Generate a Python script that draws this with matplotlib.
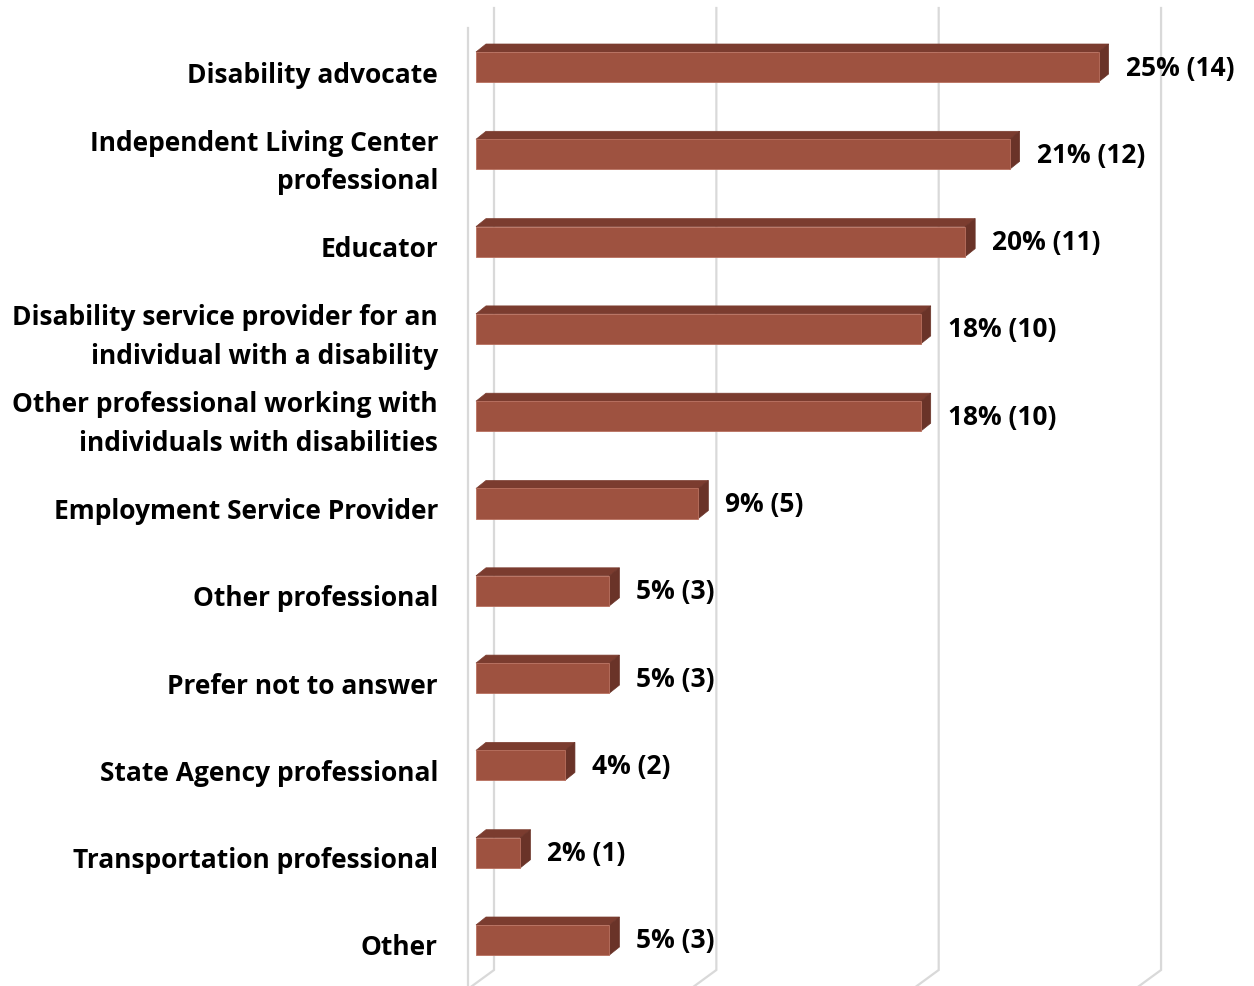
import matplotlib
matplotlib.use('Agg')
import matplotlib.pyplot as plt
from matplotlib.patches import Polygon

categories = [
    "Disability advocate",
    "Independent Living Center\nprofessional",
    "Educator",
    "Disability service provider for an\nindividual with a disability",
    "Other professional working with\nindividuals with disabilities",
    "Employment Service Provider",
    "Other professional",
    "Prefer not to answer",
    "State Agency professional",
    "Transportation professional",
    "Other",
]
counts = [14, 12, 11, 10, 10, 5, 3, 3, 2, 1, 3]
percents = [25, 21, 20, 18, 18, 9, 5, 5, 4, 2, 5]
grid_ticks = [0, 5, 10, 15]

# pixel sizes expressed in data units
W, H = 1254, 986
PX = 44.47   # pixels per count
PY = 87.3    # pixels per row
sx = 1.0 / PX
sy = 1.0 / PY

plt.rcParams['font.family'] = ['Open Sans', 'DejaVu Sans']

fig = plt.figure(figsize=(W / 100, H / 100), dpi=100)
ax = fig.add_axes([0, 0, 1, 1])
ax.set_xlim(-494 * sx, (W - 494) * sx)
ax.set_ylim((H - 67) * sy, -67 * sy)
ax.axis('off')

grid_col = '#d9d9d9'
top_y = -59 * sy
bot_y = (970 - 67) * sy
depth_dx, depth_dy = -26 * sx, 19 * sy

# back wall gridlines with floor diagonals
for t in grid_ticks:
    ax.plot([t, t, t + depth_dx], [top_y, bot_y, bot_y + depth_dy],
            color=grid_col, lw=1.6, solid_joinstyle='miter', zorder=1)
# front edge of the side wall
ax.plot([depth_dx, depth_dx], [-39 * sy, (990 - 67) * sy],
        color=grid_col, lw=1.6, zorder=1)

front_col = '#9e5240'
top_col = '#7b3c2f'
side_col = '#6a3328'
x0 = -18 * sx
half_h = 15 * sy
ddx, ddy = 10 * sx, -8 * sy

for i, (cat, n, p) in enumerate(zip(categories, counts, percents)):
    x1 = x0 + n
    yt, yb = i - half_h, i + half_h
    ax.add_patch(Polygon([(x0, yt), (x1, yt), (x1 + ddx, yt + ddy), (x0 + ddx, yt + ddy)],
                         closed=True, facecolor=top_col, edgecolor=top_col, lw=0.5, zorder=3))
    ax.add_patch(Polygon([(x1, yt), (x1 + ddx, yt + ddy), (x1 + ddx, yb + ddy), (x1, yb)],
                         closed=True, facecolor=side_col, edgecolor=side_col, lw=0.5, zorder=3))
    ax.add_patch(Polygon([(x0, yt), (x1, yt), (x1, yb), (x0, yb)],
                         closed=True, facecolor=front_col, edgecolor='#b9705f', lw=0.6, zorder=4))
    ax.text(x1 + 27 * sx, i + 1 * sy, f"{p}% ({n})", ha='left', va='center',
            fontsize=19, fontweight='bold', color='black', zorder=5)
    ax.text(-56 * sx, i + 8 * sy, cat, ha='right', va='center', fontsize=19,
            fontweight='bold', color='black', linespacing=1.55, multialignment='right')

fig.savefig('out.png', dpi=100, facecolor='white')
